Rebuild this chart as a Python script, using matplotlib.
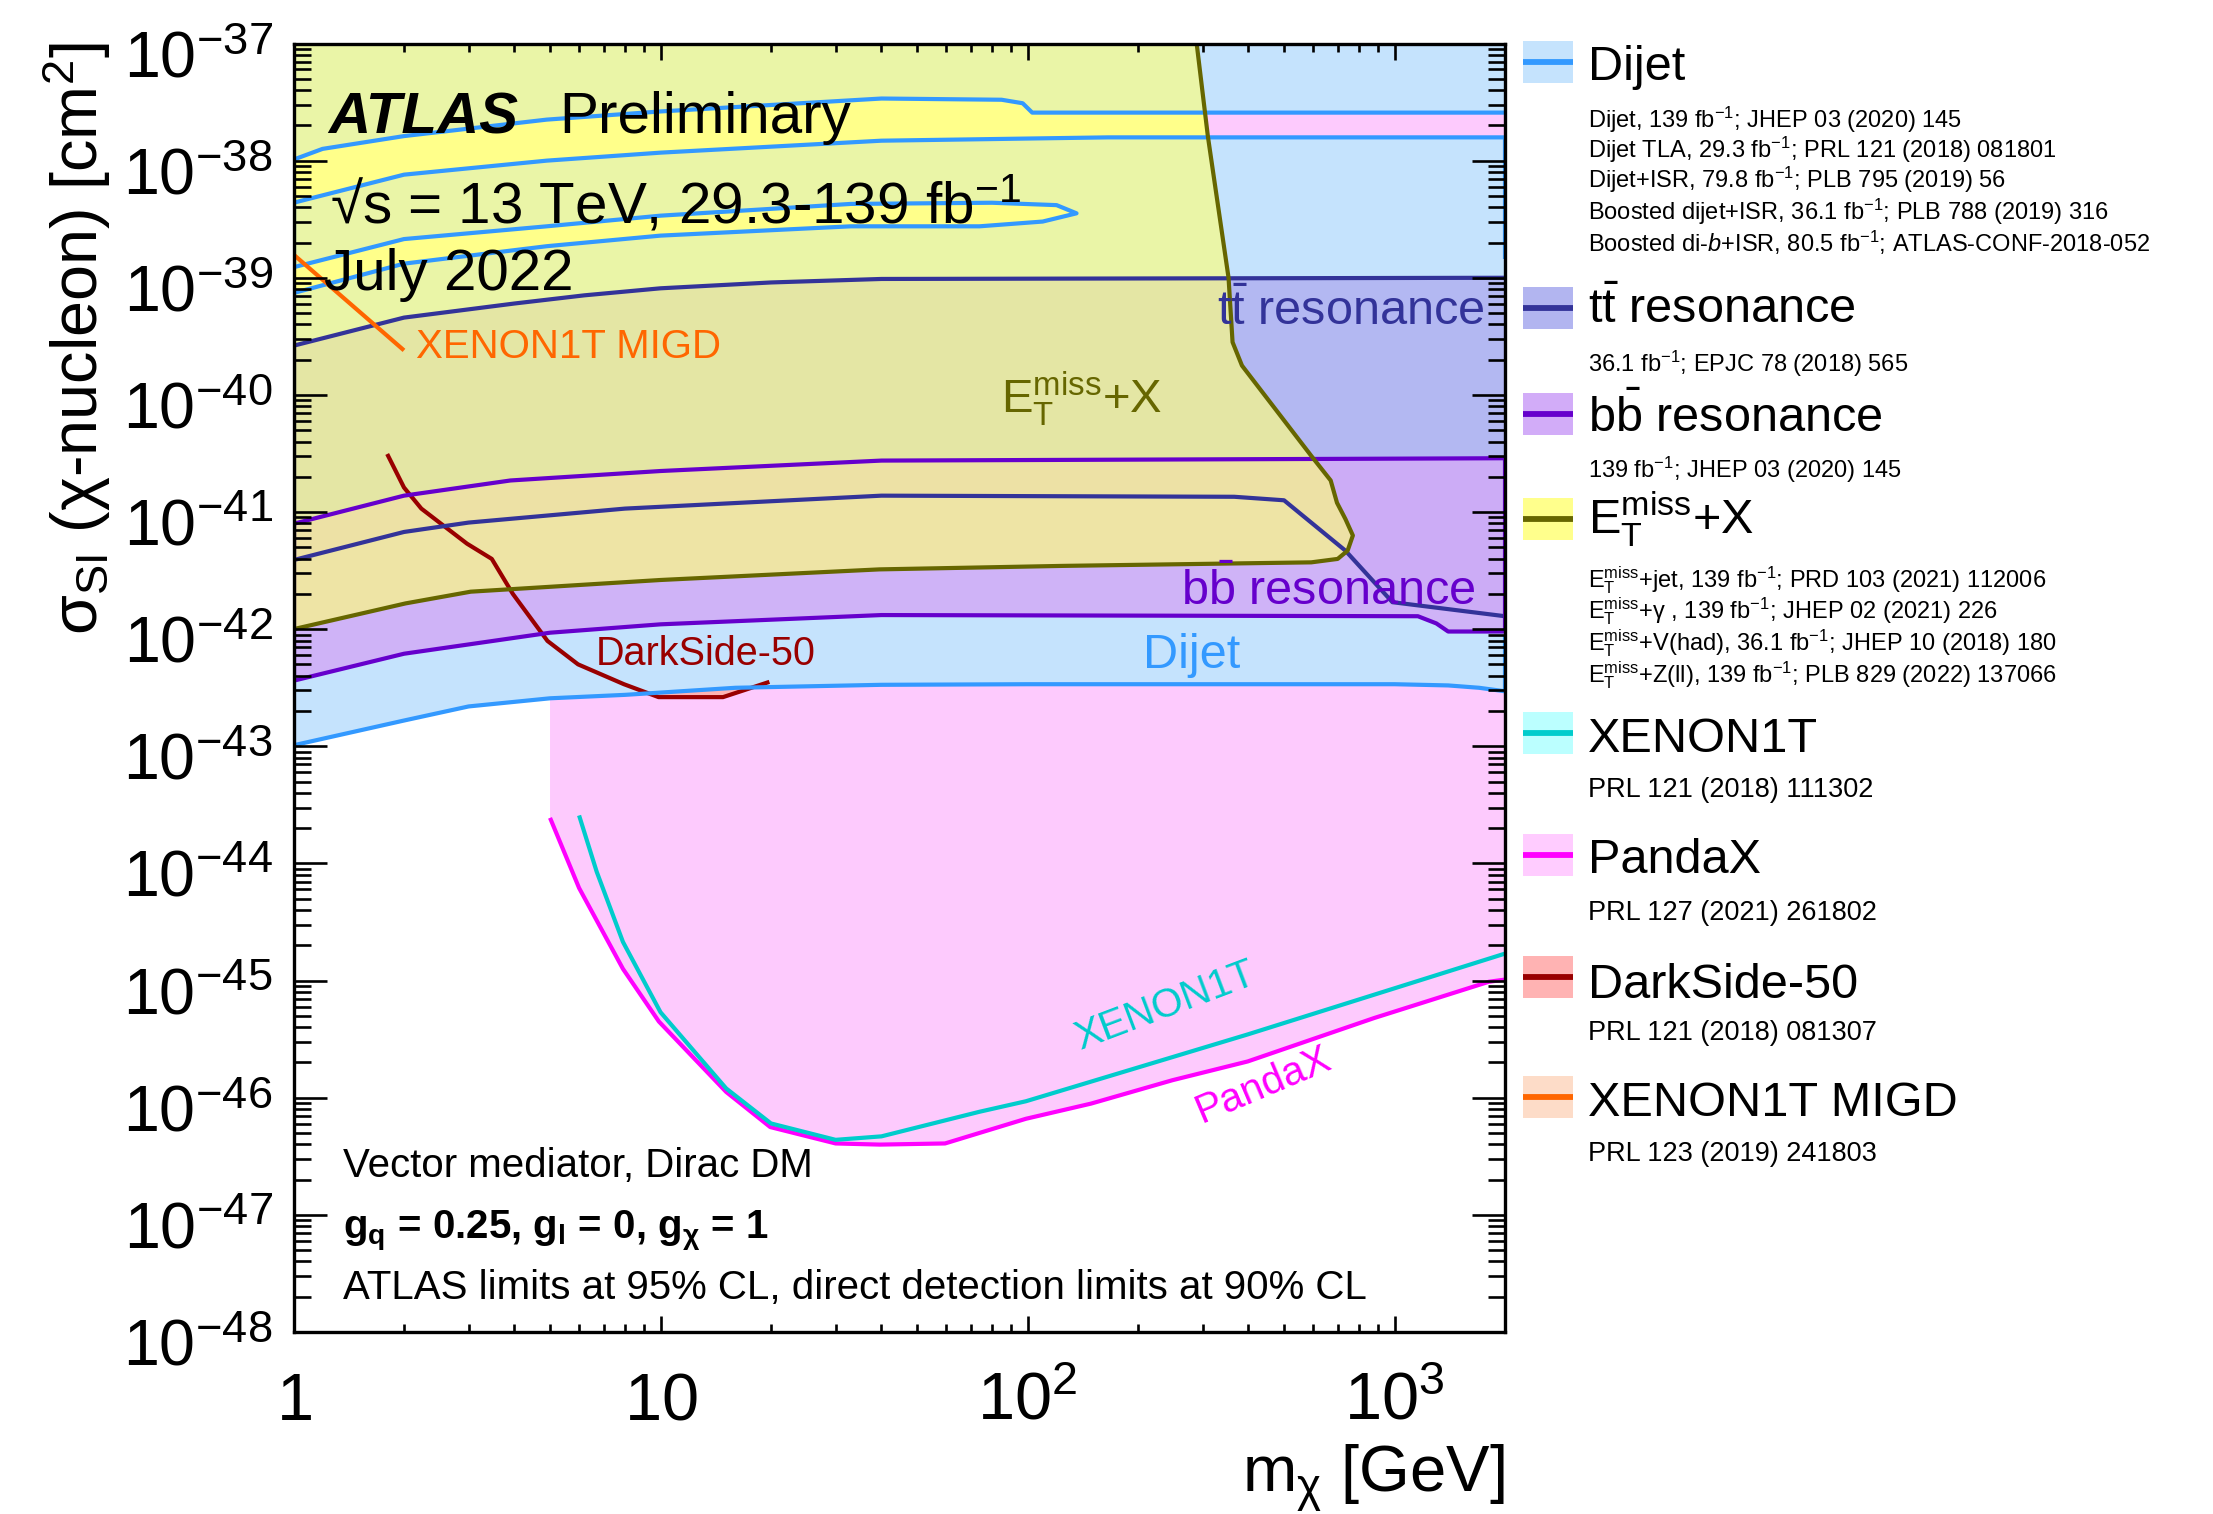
import numpy as np
import matplotlib
matplotlib.use('Agg')
import matplotlib.pyplot as plt
from matplotlib.path import Path
from matplotlib.patches import PathPatch, Rectangle
from matplotlib.lines import Line2D
from matplotlib.transforms import ScaledTranslation
from matplotlib.ticker import LogLocator, NullFormatter, FixedLocator, FixedFormatter

FONT = 'Liberation Sans'
plt.rcParams['font.family'] = [FONT, 'DejaVu Sans']
plt.rcParams['mathtext.fontset'] = 'custom'
plt.rcParams['mathtext.rm'] = FONT
plt.rcParams['mathtext.it'] = FONT + ':italic'
plt.rcParams['mathtext.bf'] = FONT + ':bold'
plt.rcParams['mathtext.sf'] = FONT

# ---------------- data ----------------
# Dijet: lower boundary
dijet_lo_x = [1, 2, 3, 5, 8, 16, 40, 100, 1000, 1400, 1700, 2000]
dijet_lo_y = [1.02e-43, 1.66e-43, 2.19e-43, 2.57e-43, 2.75e-43, 3.16e-43, 3.35e-43,
              3.39e-43, 3.39e-43, 3.31e-43, 3.16e-43, 2.95e-43]
dijet_lo_edge_top = 8.71e-43
# Dijet: upper hole band (line a above, line b below)
dijet_a_x = [1, 1.2, 2, 4.9, 10, 40, 85, 97, 103, 2000]
dijet_a_y = [1.02e-38, 1.26e-38, 1.62e-38, 2.24e-38, 2.63e-38, 3.39e-38, 3.31e-38,
             3.09e-38, 2.57e-38, 2.57e-38]
dijet_b_x = [1, 2, 4.9, 10, 40, 166, 2000]
dijet_b_y = [4.37e-39, 7.59e-39, 1.0e-38, 1.17e-38, 1.48e-38, 1.58e-38, 1.58e-38]
dijet_hi_edge_bottom = 1.45e-39
# Dijet: closed hole loop (c above, d below)
dijet_c_x = [1, 2, 4.9, 10, 33, 80, 120, 136]
dijet_c_y = [1.23e-39, 2.14e-39, 2.75e-39, 3.39e-39, 4.27e-39, 4.37e-39, 4.17e-39, 3.55e-39]
dijet_d_x = [1, 2, 4.9, 10, 33, 74, 110, 136]
dijet_d_y = [7.41e-40, 1.32e-39, 1.86e-39, 2.29e-39, 2.75e-39, 2.75e-39, 3.02e-39, 3.55e-39]

# ttbar resonance
tt_up_x = [1, 2, 4, 6.2, 10, 20, 40, 2000]
tt_up_y = [2.63e-40, 4.57e-40, 6.03e-40, 7.08e-40, 8.13e-40, 9.12e-40, 9.77e-40, 1.0e-39]
tt_lo_x = [1, 2, 3, 8, 40, 366, 500, 735, 987, 2000]
tt_lo_y = [3.89e-42, 6.76e-42, 8.13e-42, 1.07e-41, 1.38e-41, 1.35e-41, 1.26e-41,
           4.68e-42, 1.70e-42, 1.29e-42]

# bbbar resonance
bb_up_x = [1, 2, 3.9, 10, 40, 2000]
bb_up_y = [7.94e-42, 1.38e-41, 1.86e-41, 2.24e-41, 2.75e-41, 2.88e-41]
bb_lo_x = [1, 2, 5, 10, 40, 1158, 1300, 1400, 2000]
bb_lo_y = [3.63e-43, 6.17e-43, 9.33e-43, 1.10e-42, 1.32e-42, 1.29e-42, 1.12e-42,
           9.55e-43, 9.55e-43]

# MET+X contour (lower edge, then right edge up to the top)
met_x = [1, 2.02, 3.04, 10, 39.5, 125, 593, 700, 745, 770, 735, 697, 670, 593,
         384, 362, 353, 310, 289]
met_y = [1.0e-42, 1.66e-42, 2.09e-42, 2.63e-42, 3.24e-42, 3.47e-42, 3.72e-42,
         3.98e-42, 4.68e-42, 6.31e-42, 8.71e-42, 1.20e-41, 1.86e-41, 3.02e-41,
         1.78e-40, 2.82e-40, 1.0e-39, 1.62e-38, 1.0e-37]

# Direct detection
xenon_x = [6, 6.7, 7.9, 10, 15.1, 20, 30, 40, 74, 99, 398, 2000]
xenon_y = [2.57e-44, 8.51e-45, 2.14e-45, 5.37e-46, 1.20e-46, 6.03e-47, 4.37e-47,
           4.68e-47, 7.59e-47, 9.33e-47, 3.47e-46, 1.70e-45]
pandax_x = [5, 6, 7.9, 9.9, 15.1, 19.9, 30, 39.6, 59.6, 99, 149, 248, 398, 880, 1807, 2000]
pandax_y = [2.45e-44, 6.17e-45, 1.26e-45, 4.47e-46, 1.12e-46, 5.62e-47, 4.07e-47,
            3.98e-47, 4.07e-47, 6.61e-47, 8.91e-47, 1.41e-46, 2.04e-46, 4.79e-46,
            9.77e-46, 1.02e-45]
ds_x = [1.80, 2.0, 2.23, 2.97, 3.47, 3.96, 4.92, 5.96, 7.95, 9.88, 14.8, 19.8]
ds_y = [3.13e-41, 1.62e-41, 1.07e-41, 5.37e-42, 3.98e-42, 2.0e-42, 7.94e-43,
        5.01e-43, 3.39e-43, 2.63e-43, 2.63e-43, 3.55e-43]
migd_x = [1, 2]
migd_y = [1.58e-39, 2.40e-40]

x_ticks = [1, 10, 100, 1000]
x_ticklabels = [r'$\mathdefault{1}$', r'$\mathdefault{10}$',
                r'$\mathdefault{10^{2}}$', r'$\mathdefault{10^{3}}$']

legend_titles = ['Dijet', r't$\bar{\mathrm{t}}$ resonance', r'b$\bar{\mathrm{b}}$ resonance',
                 r'$\mathrm{E}_{\mathrm{T}}^{\mathrm{miss}}$+X', 'XENON1T', 'PandaX',
                 'DarkSide-50', 'XENON1T MIGD']
MET = r'$\mathrm{E}_{\mathrm{T}}^{\mathrm{miss}}$'
FB = r'fb$^{\mathrm{-1}}$'
legend_refs = [
    ['Dijet, 139 ' + FB + '; JHEP 03 (2020) 145',
     'Dijet TLA, 29.3 ' + FB + '; PRL 121 (2018) 081801',
     'Dijet+ISR, 79.8 ' + FB + '; PLB 795 (2019) 56',
     'Boosted dijet+ISR, 36.1 ' + FB + '; PLB 788 (2019) 316',
     r'Boosted di-$b$+ISR, 80.5 ' + FB + '; ATLAS-CONF-2018-052'],
    ['36.1 ' + FB + '; EPJC 78 (2018) 565'],
    ['139 ' + FB + '; JHEP 03 (2020) 145'],
    [MET + '+jet, 139 ' + FB + '; PRD 103 (2021) 112006',
     MET + r'+$\mathrm{\gamma}$ , 139 ' + FB + '; JHEP 02 (2021) 226',
     MET + '+V(had), 36.1 ' + FB + '; JHEP 10 (2018) 180',
     MET + '+Z(ll), 139 ' + FB + '; PLB 829 (2022) 137066'],
    ['PRL 121 (2018) 111302'],
    ['PRL 127 (2021) 261802'],
    ['PRL 121 (2018) 081307'],
    ['PRL 123 (2019) 241803'],
]

# ---------------- styles ----------------
C_DIJET_L, C_DIJET_F = '#3399ff', '#c5e3fd'
C_TT_L = '#333399'
C_BB_L = '#6600cc'
C_MET_L = '#666600'
C_XE_L, C_XE_F = '#00cccc', '#bbffff'
C_PX_L, C_PX_F = '#ff00ff', '#fdcafd'
C_DS_L, C_DS_F = '#990000', '#ffb3b3'
C_MG_L, C_MG_F = '#ff6600', '#fddcc8'
legend_fill = [C_DIJET_F, '#b2b5f0', '#d2acf8', '#ffff8c', C_XE_F, '#ffccff', C_DS_F, C_MG_F]
legend_line = [C_DIJET_L, C_TT_L, C_BB_L, C_MET_L, C_XE_L, C_PX_L, C_DS_L, C_MG_L]
LW = 3.0
YTOP = 1e-36

W, H = 2213, 1514
fig = plt.figure(figsize=(W / 100, H / 100), dpi=100)
ax = fig.add_axes([293.5 / W, 1 - 1332 / H, (1505 - 293.5) / W, (1332 - 43.5) / H])
ax.set_xscale('log')
ax.set_yscale('log')
ax.set_xlim(1, 2000)
ax.set_ylim(1e-48, 1e-37)


def ring(xs, ys):
    v = list(zip(xs, ys))
    verts = v + [v[0]]
    codes = [Path.MOVETO] + [Path.LINETO] * (len(v) - 1) + [Path.CLOSEPOLY]
    return verts, codes


def compound(*rings):
    V, Cd = [], []
    for xs, ys in rings:
        v, c = ring(xs, ys)
        V += v
        Cd += c
    return Path(V, Cd)


def add_path(path, z, **kw):
    p = PathPatch(path, transform=ax.transData, zorder=z, **kw)
    ax.add_patch(p)
    return p


def above(xs, ys):
    return (list(xs) + [xs[-1], xs[0]], list(ys) + [YTOP, YTOP])


def band(xlo, ylo, xhi, yhi):
    return (list(xlo) + list(xhi)[::-1], list(ylo) + list(yhi)[::-1])


# direct-detection excluded regions
add_path(compound(above(xenon_x, xenon_y)), 1.0, facecolor=C_XE_F, edgecolor='none')
add_path(compound(above(pandax_x, pandax_y)), 1.1, facecolor=C_PX_F, edgecolor='none')
add_path(compound(above(ds_x, ds_y)), 1.2, facecolor=C_DS_F, edgecolor='none')
add_path(compound(above(migd_x, migd_y)), 1.3, facecolor=C_MG_F, edgecolor='none')

# dijet region with holes
outer = (list(dijet_lo_x) + [dijet_lo_x[-1], dijet_lo_x[0]], list(dijet_lo_y) + [YTOP, YTOP])
hole1 = band(dijet_b_x, dijet_b_y, dijet_a_x, dijet_a_y)
hole1 = (hole1[0][::-1], hole1[1][::-1])
hole2 = band(dijet_d_x, dijet_d_y, dijet_c_x, dijet_c_y)
hole2 = (hole2[0][::-1], hole2[1][::-1])
add_path(compound(outer, hole1, hole2), 2, facecolor=C_DIJET_F, edgecolor='none')

# ttbar and bbbar
add_path(compound(band(tt_lo_x, tt_lo_y, tt_up_x, tt_up_y)), 3,
         facecolor=(163 / 255, 143 / 255, 233 / 255), alpha=0.5, edgecolor='none')
add_path(compound(band(bb_lo_x, bb_lo_y, bb_up_x, bb_up_y)), 4,
         facecolor=(209 / 255, 171 / 255, 247 / 255), alpha=0.85, edgecolor='none')

# MET+X
met_ring = (list(met_x) + [met_x[-1], met_x[0]], list(met_y) + [YTOP, YTOP])
met_patch = add_path(compound(met_ring), 5, facecolor=(1, 1, 122 / 255), alpha=0.65,
                     edgecolor='none')
holes_base = add_path(compound(hole1, hole2), 4.5, facecolor=(1, 1, 168 / 255),
                      edgecolor='none')
holes_base.set_clip_path(met_patch)

# ---------------- lines ----------------
lk = dict(lw=LW, solid_joinstyle='round', solid_capstyle='butt')
ax.plot(dijet_lo_x, dijet_lo_y, color=C_DIJET_L, zorder=7, **lk)
ax.plot([dijet_lo_x[-1]] * 2, [dijet_lo_y[-1], dijet_lo_edge_top], color=C_DIJET_L, zorder=7, **lk)
ax.plot(dijet_a_x, dijet_a_y, color=C_DIJET_L, zorder=7, **lk)
ax.plot(dijet_b_x, dijet_b_y, color=C_DIJET_L, zorder=7, **lk)
ax.plot(list(dijet_c_x) + list(dijet_d_x)[::-1], list(dijet_c_y) + list(dijet_d_y)[::-1],
        color=C_DIJET_L, zorder=7, **lk)
ax.plot([dijet_b_x[0]] * 2, [dijet_b_y[0], dijet_c_y[0]], color=C_DIJET_L, zorder=7, **lk)
ax.plot([dijet_b_x[-1]] * 2, [dijet_b_y[-1], dijet_hi_edge_bottom], color=C_DIJET_L, zorder=7, **lk)

ax.plot(tt_up_x, tt_up_y, color=C_TT_L, zorder=7.2, **lk)
ax.plot(tt_lo_x, tt_lo_y, color=C_TT_L, zorder=7.2, **lk)
ax.plot([tt_up_x[0]] * 2, [tt_up_y[0], tt_lo_y[0]], color=C_TT_L, zorder=7.2, **lk)

ax.plot(bb_up_x, bb_up_y, color=C_BB_L, zorder=7.3, **lk)
ax.plot(bb_lo_x, bb_lo_y, color=C_BB_L, zorder=7.3, **lk)
ax.plot([bb_up_x[0]] * 2, [bb_up_y[0], bb_lo_y[0]], color=C_BB_L, zorder=7.3, **lk)
ax.plot([bb_up_x[-1]] * 2, [bb_up_y[-1], bb_lo_y[-1]], color=C_BB_L, zorder=7.3, **lk)

ax.plot(met_x, met_y, color=C_MET_L, zorder=7.4, **lk)
ax.plot(ds_x, ds_y, color=C_DS_L, zorder=6.9, **lk)
ax.plot(migd_x, migd_y, color=C_MG_L, zorder=7.5, **lk)
ax.plot(xenon_x, xenon_y, color=C_XE_L, zorder=7.6, **lk)
ax.plot(pandax_x, pandax_y, color=C_PX_L, zorder=7.5, **lk)

# ---------------- axes styling ----------------
for s in ax.spines.values():
    s.set_linewidth(2.4)
    s.set_zorder(20)
ax.xaxis.set_zorder(19)
ax.yaxis.set_zorder(19)
ax.xaxis.set_major_locator(FixedLocator(x_ticks))
ax.xaxis.set_major_formatter(FixedFormatter(x_ticklabels))
ax.xaxis.set_minor_locator(LogLocator(base=10, subs=np.arange(2, 10), numticks=100))
ax.xaxis.set_minor_formatter(NullFormatter())
ax.yaxis.set_major_locator(LogLocator(base=10, numticks=30))
ax.yaxis.set_minor_locator(LogLocator(base=10, subs=np.arange(2, 10), numticks=100))
ax.yaxis.set_minor_formatter(NullFormatter())
ax.tick_params(which='both', direction='in', top=True, right=True, width=1.9)
ax.tick_params(axis='x', which='major', length=11.5, pad=63, labelsize=48)
ax.tick_params(axis='x', which='minor', length=5.8)
ax.tick_params(axis='y', which='major', length=23.8, pad=15, labelsize=46.5)
ax.tick_params(axis='y', which='minor', length=12.2)
for lab in ax.get_xticklabels():
    lab.set_verticalalignment('baseline')
ylab_shift = ScaledTranslation(0, -7.2 / 72, fig.dpi_scale_trans)
for tk in ax.yaxis.get_major_ticks():
    tk.label1.set_transform(tk.label1.get_transform() + ylab_shift)


def fx(px):
    return px / W


def fy(py):
    return 1 - py / H


fig.text(fx(77), fy(42), 'σ$_{\\mathrm{SI}}$ (χ-nucleon) [cm$^{\\mathrm{2}}$]', rotation=90,
         ha='center', va='top', fontsize=46.5)
fig.text(fx(1505), fy(1493), r'm$_{\mathrm{χ}}$ [GeV]', ha='right', va='baseline', fontsize=47)

# ---------------- in-plot labels ----------------
fig.text(fx(328), fy(133), 'ATLAS', fontsize=42, fontweight='bold', fontstyle='italic',
         va='baseline', zorder=30)
fig.text(fx(559), fy(133), 'Preliminary', fontsize=42, va='baseline', zorder=30)
fig.text(fx(330), fy(222), '√s = 13 TeV, 29.3-139 fb$^{\\mathrm{-1}}$',
         fontsize=42, va='baseline', zorder=30)
fig.text(fx(324), fy(290), 'July 2022', fontsize=42, va='baseline', zorder=30)
fig.text(fx(416), fy(358), 'XENON1T MIGD', fontsize=29, color=C_MG_L, va='baseline', zorder=30)
fig.text(fx(1001), fy(413), MET + '+X', fontsize=34, color=C_MET_L, va='baseline', zorder=30)
fig.text(fx(1484), fy(325), legend_titles[1], fontsize=35, color=C_TT_L, ha='right',
         va='baseline', zorder=30)
fig.text(fx(1476), fy(605), legend_titles[2], fontsize=35, color=C_BB_L, ha='right',
         va='baseline', zorder=30)
fig.text(fx(1143), fy(668), 'Dijet', fontsize=35, color=C_DIJET_L, va='baseline', zorder=30)
fig.text(fx(596), fy(665), 'DarkSide-50', fontsize=28.5, color=C_DS_L, va='baseline', zorder=30)
fig.text(fx(1080), fy(1050), 'XENON1T', fontsize=29, color=C_XE_L, rotation=20.7,
         rotation_mode='anchor', va='baseline', zorder=30)
fig.text(fx(1202), fy(1123), 'PandaX', fontsize=29, color=C_PX_L, rotation=23,
         rotation_mode='anchor', va='baseline', zorder=30)
fig.text(fx(343), fy(1177), 'Vector mediator, Dirac DM', fontsize=29, va='baseline', zorder=30)
fig.text(fx(343), fy(1238),
         r'g$_{\mathbf{q}}$ = 0.25, g$_{\mathbf{l}}$ = 0, g$_{\mathbf{χ}}$ = 1',
         fontsize=29, fontweight='bold', va='baseline', zorder=30)
fig.text(fx(343), fy(1299), 'ATLAS limits at 95% CL, direct detection limits at 90% CL',
         fontsize=29, va='baseline', zorder=30)

# ---------------- legend ----------------
patch_centers = [62, 307.5, 413.5, 519, 733, 855, 976.5, 1097]
title_base = [80, 323, 432, 534, 752, 873, 998, 1116]
ref_base = [[128.3, 158.3, 188.3, 220, 251.7], [371.7], [478.3],
            [587, 618, 650, 682], [797], [920], [1040], [1161]]
ref_size = [17, 17, 17, 17, 19.5, 19.5, 19.5, 19.5]
for i in range(8):
    pc = patch_centers[i]
    fig.add_artist(Rectangle((fx(1523), fy(pc + 21)), 50 / W, 42 / H, transform=fig.transFigure,
                             facecolor=legend_fill[i], edgecolor='none'))
    fig.add_artist(Line2D([fx(1523), fx(1573)], [fy(pc), fy(pc)], transform=fig.transFigure,
                          color=legend_line[i], lw=4.2, solid_capstyle='butt'))
    fig.text(fx(1588), fy(title_base[i]), legend_titles[i], fontsize=35, va='baseline')
    for t, b in zip(legend_refs[i], ref_base[i]):
        fig.text(fx(1588), fy(b), t, fontsize=ref_size[i], va='baseline')

fig.savefig('out.png', dpi=100)
